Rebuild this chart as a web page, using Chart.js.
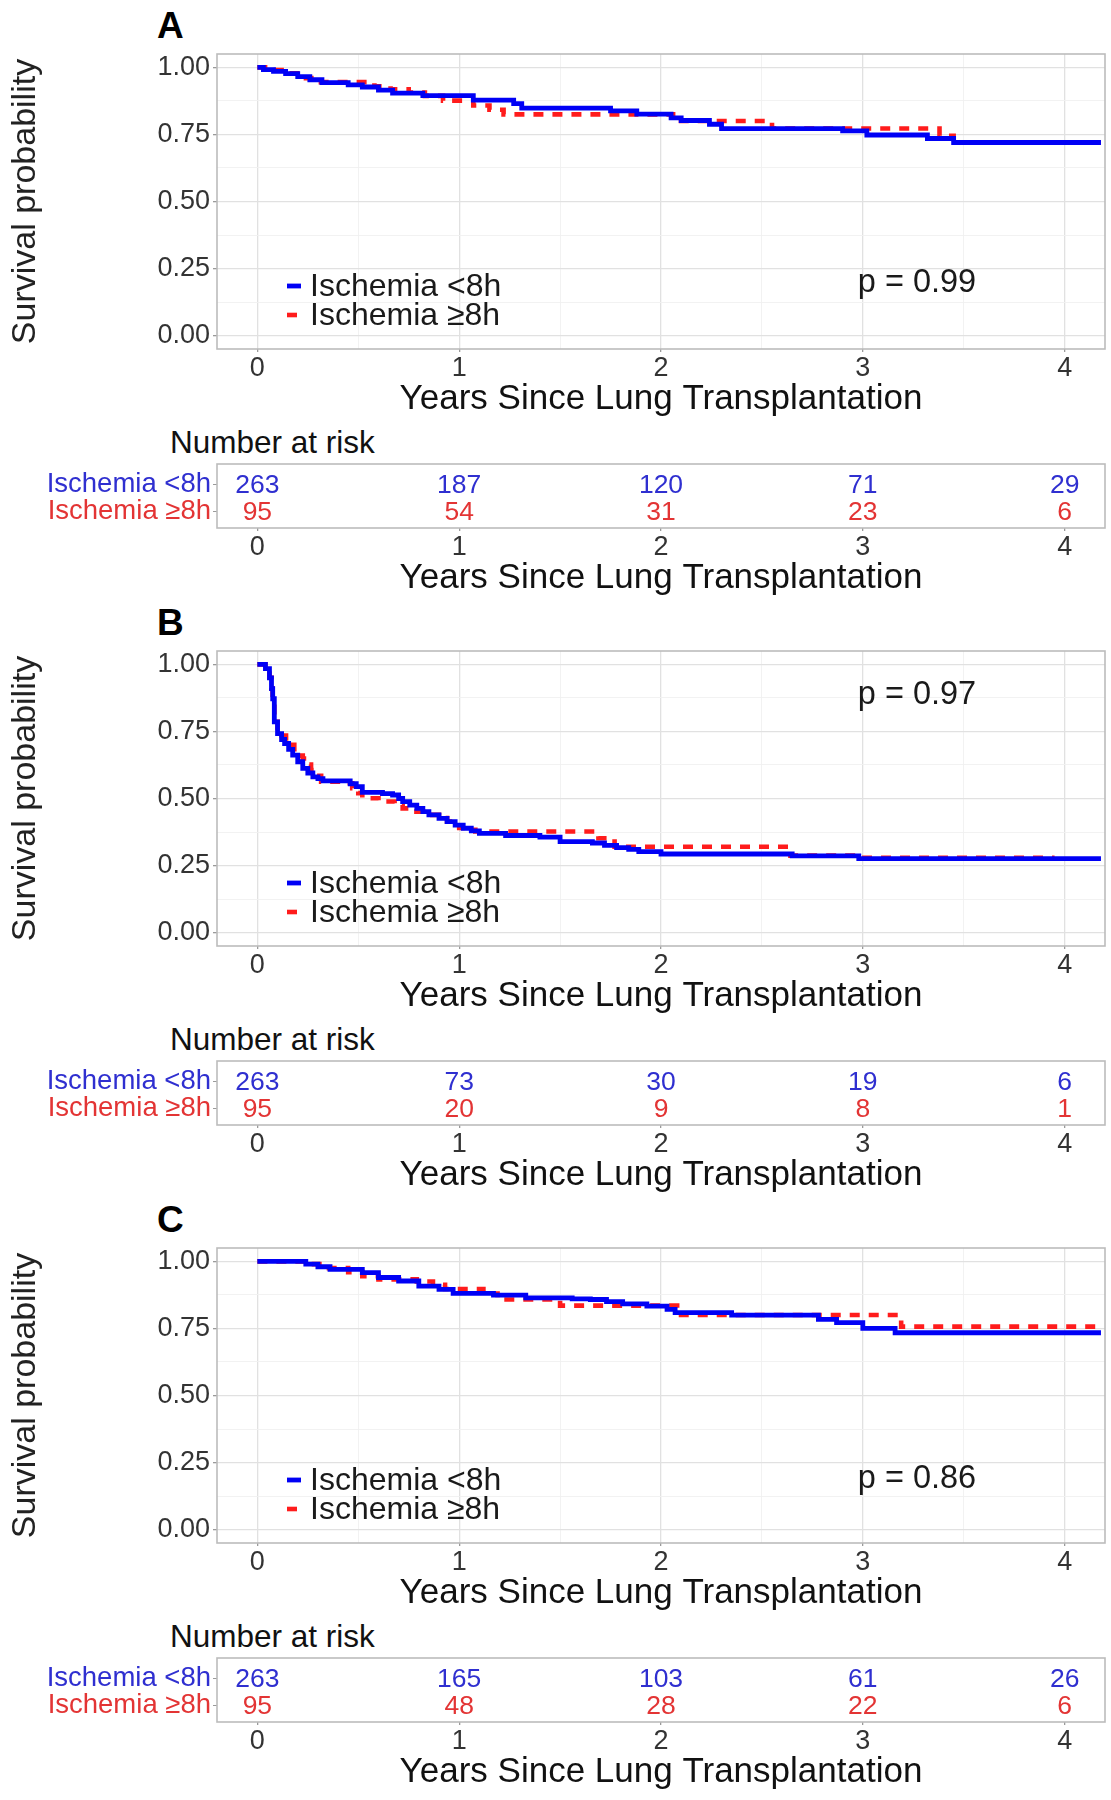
<!DOCTYPE html>
<html><head><meta charset="utf-8">
<script src="https://cdn.jsdelivr.net/npm/chart.js@4.4.1/dist/chart.umd.min.js"></script>
<style>
html,body{margin:0;padding:0;background:#fff;}
#wrap{position:relative;width:1111px;height:1800px;overflow:hidden;font-family:'Liberation Sans',Arial,sans-serif;background:#fff;}
canvas{position:absolute;left:0;}
.lbl{position:absolute;left:157px;font-weight:bold;font-size:37px;line-height:1;color:#000;}
.nar{position:absolute;left:170px;font-size:31.5px;line-height:1;color:#111;}
</style></head><body>
<div id="wrap"></div>
<script>
// ---------- data ----------
const xTicks = [0, 1, 2, 3, 4];
const xMinorTicks = [0.5, 1.5, 2.5, 3.5];
const yTicks = [0, 0.25, 0.5, 0.75, 1];
const yTickLabels = ['0.00', '0.25', '0.50', '0.75', '1.00'];
const yMinorTicks = [0.125, 0.375, 0.625, 0.875];
const groups = ['Ischemia <8h', 'Ischemia \u22658h'];
const riskTimes = [0, 1, 2, 3, 4];
const xTitle = 'Years Since Lung Transplantation';
const yTitle = 'Survival probability';
const riskTitle = 'Number at risk';

// Panel A
const timeA_lt8 = [0, 0.03, 0.08, 0.14, 0.20, 0.26, 0.32, 0.45, 0.52, 0.60, 0.67, 0.82, 1.07, 1.27, 1.31, 1.75, 1.88, 2.05, 2.10, 2.24, 2.30, 2.90, 3.02, 3.32, 3.45, 4.18];
const survA_lt8 = [1.0, 0.992, 0.985, 0.977, 0.966, 0.954, 0.943, 0.935, 0.927, 0.915, 0.904, 0.895, 0.878, 0.865, 0.848, 0.838, 0.826, 0.812, 0.802, 0.788, 0.772, 0.763, 0.748, 0.735, 0.72, 0.72];
const timeA_ge8 = [0, 0.05, 0.12, 0.22, 0.30, 0.58, 0.66, 0.75, 0.83, 0.92, 1.07, 1.15, 1.22, 2.06, 2.55, 3.38, 3.45, 4.18];
const survA_ge8 = [1.0, 0.99, 0.978, 0.96, 0.945, 0.93, 0.918, 0.906, 0.894, 0.876, 0.858, 0.842, 0.825, 0.800, 0.772, 0.745, 0.72, 0.72];
const riskA_lt8 = [263, 187, 120, 71, 29];
const riskA_ge8 = [95, 54, 31, 23, 6];
const pTextA = 'p = 0.99';

// Panel B
const timeB_lt8 = [0, 0.04, 0.06, 0.07, 0.076, 0.084, 0.10, 0.12, 0.135, 0.155, 0.175, 0.20, 0.225, 0.25, 0.275, 0.30, 0.325, 0.46, 0.49, 0.52, 0.62, 0.67, 0.70, 0.72, 0.755, 0.79, 0.82, 0.85, 0.90, 0.94, 0.98, 1.02, 1.06, 1.10, 1.23, 1.40, 1.50, 1.66, 1.72, 1.78, 1.84, 1.89, 2.0, 2.65, 2.98, 4.18];
const survB_lt8 = [1.0, 0.984, 0.95, 0.91, 0.872, 0.786, 0.742, 0.72, 0.705, 0.683, 0.662, 0.637, 0.612, 0.595, 0.581, 0.574, 0.566, 0.555, 0.544, 0.523, 0.518, 0.513, 0.50, 0.488, 0.475, 0.463, 0.451, 0.439, 0.426, 0.414, 0.401, 0.389, 0.379, 0.37, 0.362, 0.356, 0.339, 0.334, 0.325, 0.317, 0.31, 0.302, 0.293, 0.286, 0.276, 0.276];
const timeB_ge8 = [0, 0.04, 0.06, 0.07, 0.076, 0.084, 0.10, 0.12, 0.142, 0.165, 0.183, 0.205, 0.225, 0.245, 0.266, 0.29, 0.316, 0.44, 0.47, 0.50, 0.52, 0.6, 0.68, 0.72, 0.75, 0.82, 0.9, 0.94, 0.97, 1.0, 1.03, 1.08, 1.69, 1.77, 2.63, 2.98, 3.95];
const survB_ge8 = [1.0, 0.984, 0.95, 0.91, 0.872, 0.786, 0.742, 0.735, 0.724, 0.70, 0.674, 0.66, 0.649, 0.627, 0.606, 0.585, 0.563, 0.557, 0.538, 0.52, 0.501, 0.489, 0.476, 0.463, 0.451, 0.439, 0.427, 0.414, 0.40, 0.39, 0.383, 0.377, 0.352, 0.32, 0.287, 0.279, 0.279];
const riskB_lt8 = [263, 73, 30, 19, 6];
const riskB_ge8 = [95, 20, 9, 8, 1];
const pTextB = 'p = 0.97';

// Panel C
const timeC_lt8 = [0, 0.24, 0.30, 0.36, 0.52, 0.60, 0.70, 0.80, 0.90, 0.97, 1.17, 1.33, 1.56, 1.65, 1.73, 1.81, 1.93, 2.03, 2.07, 2.35, 2.78, 2.87, 3.0, 3.16, 4.18];
const survC_lt8 = [1.0, 0.99, 0.98, 0.97, 0.958, 0.94, 0.927, 0.908, 0.896, 0.881, 0.874, 0.864, 0.86, 0.858, 0.85, 0.842, 0.833, 0.821, 0.809, 0.80, 0.784, 0.772, 0.75, 0.734, 0.734];
const timeC_ge8 = [0, 0.26, 0.33, 0.45, 0.52, 0.60, 0.79, 0.87, 0.93, 1.12, 1.19, 1.50, 2.08, 3.19, 4.18];
const survC_ge8 = [1.0, 0.99, 0.975, 0.96, 0.945, 0.933, 0.925, 0.913, 0.897, 0.88, 0.858, 0.835, 0.80, 0.757, 0.757];
const riskC_lt8 = [263, 165, 103, 61, 26];
const riskC_ge8 = [95, 48, 28, 22, 6];
const pTextC = 'p = 0.86';

// ---------- style ----------
const FONT = "'Liberation Sans', Arial, Helvetica, sans-serif";
const BLUE = '#0000f5';
const RED = '#ff1c1c';
const BLUE_TXT = '#2f2fd0';
const RED_TXT = '#e33434';
const GRID_MAJ = '#e1e1e1';
const GRID_MIN = '#f1f1f1';
const TICK_COL = '#9a9a9a';
const PANEL_H = 597;

const panels = [
  {letter: 'A', tLt: timeA_lt8, sLt: survA_lt8, tGe: timeA_ge8, sGe: survA_ge8, rLt: riskA_lt8, rGe: riskA_ge8, p: pTextA, pAt: {x: 2.975, y: 0.197}},
  {letter: 'B', tLt: timeB_lt8, sLt: survB_lt8, tGe: timeB_ge8, sGe: survB_ge8, rLt: riskB_lt8, rGe: riskB_ge8, p: pTextB, pAt: {x: 2.975, y: 0.885}},
  {letter: 'C', tLt: timeC_lt8, sLt: survC_lt8, tGe: timeC_ge8, sGe: survC_ge8, rLt: riskC_lt8, rGe: riskC_ge8, p: pTextC, pAt: {x: 2.975, y: 0.19}}
];

const near = (v, arr) => arr.some(a => Math.abs(a - v) < 1e-9);
const toXY = (t, s) => t.map((v, i) => ({x: v, y: s[i]}));

const framePlugin = {
  id: 'frame',
  afterDatasetsDraw(chart) {
    const {ctx, chartArea: a} = chart;
    ctx.save();
    ctx.strokeStyle = '#bcbcbc';
    ctx.lineWidth = 1.6;
    ctx.strokeRect(a.left, a.top, a.right - a.left, a.bottom - a.top);
    ctx.restore();
  }
};

const kmLegend = {
  id: 'kmLegend',
  afterDraw(chart, args, o) {
    const {ctx, chartArea: a} = chart;
    ctx.save();
    ctx.font = o.size + 'px ' + FONT;
    ctx.textBaseline = 'middle';
    ctx.textAlign = 'left';
    chart.data.datasets.forEach((ds, i) => {
      const y = a.top + o.top + i * o.gap;
      ctx.strokeStyle = ds.borderColor;
      ctx.lineWidth = ds.borderWidth;
      ctx.setLineDash(ds.borderDash || []);
      ctx.beginPath();
      ctx.moveTo(a.left + o.keyX, y);
      ctx.lineTo(a.left + o.keyX + o.keyW, y);
      ctx.stroke();
      ctx.setLineDash([]);
      ctx.fillStyle = '#1a1a1a';
      ctx.fillText(ds.label, a.left + o.textX, y + 1);
    });
    ctx.restore();
  }
};

const pLabel = {
  id: 'pLabel',
  afterDraw(chart, args, o) {
    const {ctx, scales} = chart;
    ctx.save();
    ctx.font = o.size + 'px ' + FONT;
    ctx.fillStyle = '#1a1a1a';
    ctx.textBaseline = 'middle';
    ctx.textAlign = 'left';
    ctx.fillText(o.text, scales.x.getPixelForValue(o.x), scales.y.getPixelForValue(o.y));
    ctx.restore();
  }
};

const riskNums = {
  id: 'riskNums',
  afterDatasetsDraw(chart, args, o) {
    const {ctx} = chart;
    ctx.save();
    ctx.font = o.size + 'px ' + FONT;
    ctx.textAlign = 'center';
    ctx.textBaseline = 'middle';
    chart.data.datasets.forEach((ds, i) => {
      const meta = chart.getDatasetMeta(i);
      ctx.fillStyle = ds.textColor;
      meta.data.forEach((pt, j) => ctx.fillText(String(ds.data[j].n), pt.x, pt.y + 1));
    });
    ctx.restore();
  }
};

const wrap = document.getElementById('wrap');

function addCanvas(top, h) {
  const c = document.createElement('canvas');
  c.width = 1111; c.height = h;
  c.style.top = top + 'px';
  c.style.width = '1111px'; c.style.height = h + 'px';
  wrap.appendChild(c);
  return c;
}
function addDiv(cls, text, top) {
  const d = document.createElement('div');
  d.className = cls; d.textContent = text; d.style.top = top + 'px';
  wrap.appendChild(d);
}

function xScale(height, titlePadBottom, showGrid) {
  return {
    type: 'linear', min: -0.2, max: 4.2,
    afterBuildTicks: s => { s.ticks = (showGrid ? xTicks.concat(xMinorTicks) : xTicks.slice()).sort((a, b) => a - b).map(v => ({value: v})); },
    afterFit: s => { s.height = height; },
    ticks: {autoSkip: false, maxRotation: 0, padding: 0, color: '#333', font: {family: FONT, size: 27},
      callback: v => near(v, xTicks) ? String(v) : ''},
    grid: {
      drawOnChartArea: showGrid,
      color: c => (c.tick && near(c.tick.value, xTicks)) ? GRID_MAJ : GRID_MIN,
      lineWidth: c => (c.tick && near(c.tick.value, xTicks)) ? 1.3 : 0.9,
      tickColor: c => (c.tick && near(c.tick.value, xTicks)) ? TICK_COL : 'rgba(0,0,0,0)',
      tickLength: 3
    },
    border: {display: false},
    title: {display: true, text: xTitle, color: '#111', font: {family: FONT, size: 35}, padding: {top: 0, bottom: titlePadBottom}}
  };
}

panels.forEach((p, k) => {
  const P = k * PANEL_H;
  addDiv('lbl', p.letter, P + 7);
  addDiv('nar', riskTitle, P + 427);

  // Kaplan-Meier plot
  new Chart(addCanvas(P, 420), {
    type: 'line',
    data: {datasets: [
      {label: groups[0], data: toXY(p.tLt, p.sLt), borderColor: BLUE, borderWidth: 4.8, stepped: 'before', pointRadius: 0, fill: false},
      {label: groups[1], data: toXY(p.tGe, p.sGe), borderColor: RED, borderWidth: 4.6, borderDash: [10, 9], stepped: 'before', pointRadius: 0, fill: false}
    ]},
    options: {
      responsive: false, animation: false, devicePixelRatio: 1,
      layout: {padding: {top: 54, right: 6, left: 0, bottom: 0}},
      plugins: {
        legend: {display: false}, tooltip: {enabled: false},
        kmLegend: {size: 32, top: 232, gap: 29, keyX: 70, keyW: 14, textX: 93},
        pLabel: {text: p.p, x: p.pAt.x, y: p.pAt.y, size: 32.5}
      },
      scales: {
        x: xScale(71, 0, true),
        y: {
          min: -0.05, max: 1.05,
          afterBuildTicks: s => { s.ticks = yTicks.concat(yMinorTicks).sort((a, b) => a - b).map(v => ({value: v})); },
          afterFit: s => { s.width = 217; },
          ticks: {autoSkip: false, padding: 3, color: '#333', font: {family: FONT, size: 27},
            callback: v => { const i = yTicks.findIndex(a => Math.abs(a - v) < 1e-9); return i >= 0 ? yTickLabels[i] : ''; }},
          grid: {
            color: c => (c.tick && near(c.tick.value, yTicks)) ? GRID_MAJ : GRID_MIN,
            lineWidth: c => (c.tick && near(c.tick.value, yTicks)) ? 1.3 : 0.9,
            tickColor: c => (c.tick && near(c.tick.value, yTicks)) ? TICK_COL : 'rgba(0,0,0,0)',
            tickLength: 4
          },
          border: {display: false},
          title: {display: true, text: yTitle, color: '#222', font: {family: FONT, size: 34}, padding: {top: 5, bottom: 0}}
        }
      }
    },
    plugins: [framePlugin, kmLegend, pLabel]
  });

  // Number-at-risk table
  new Chart(addCanvas(P + 420, 179), {
    type: 'scatter',
    data: {datasets: [
      {label: groups[0], textColor: BLUE_TXT, pointRadius: 0, data: riskTimes.map((t, i) => ({x: t, y: 2, n: p.rLt[i]}))},
      {label: groups[1], textColor: RED_TXT, pointRadius: 0, data: riskTimes.map((t, i) => ({x: t, y: 1, n: p.rGe[i]}))}
    ]},
    options: {
      responsive: false, animation: false, devicePixelRatio: 1,
      layout: {padding: {top: 44, right: 6, left: 0, bottom: 0}},
      plugins: {legend: {display: false}, tooltip: {enabled: false}, riskNums: {size: 26.5}},
      scales: {
        x: xScale(71, 0, false),
        y: {
          min: 0.4, max: 2.75,
          afterBuildTicks: s => { s.ticks = [1, 2].map(v => ({value: v})); },
          afterFit: s => { s.width = 217; },
          ticks: {autoSkip: false, padding: 2, font: {family: FONT, size: 27.5},
            color: c => (c.tick && c.tick.value === 2) ? BLUE_TXT : RED_TXT,
            callback: v => v === 2 ? groups[0] : (v === 1 ? groups[1] : '')},
          grid: {drawOnChartArea: false, tickColor: TICK_COL, tickLength: 4},
          border: {display: false}
        }
      }
    },
    plugins: [framePlugin, riskNums]
  });
});
</script>
</body></html>
